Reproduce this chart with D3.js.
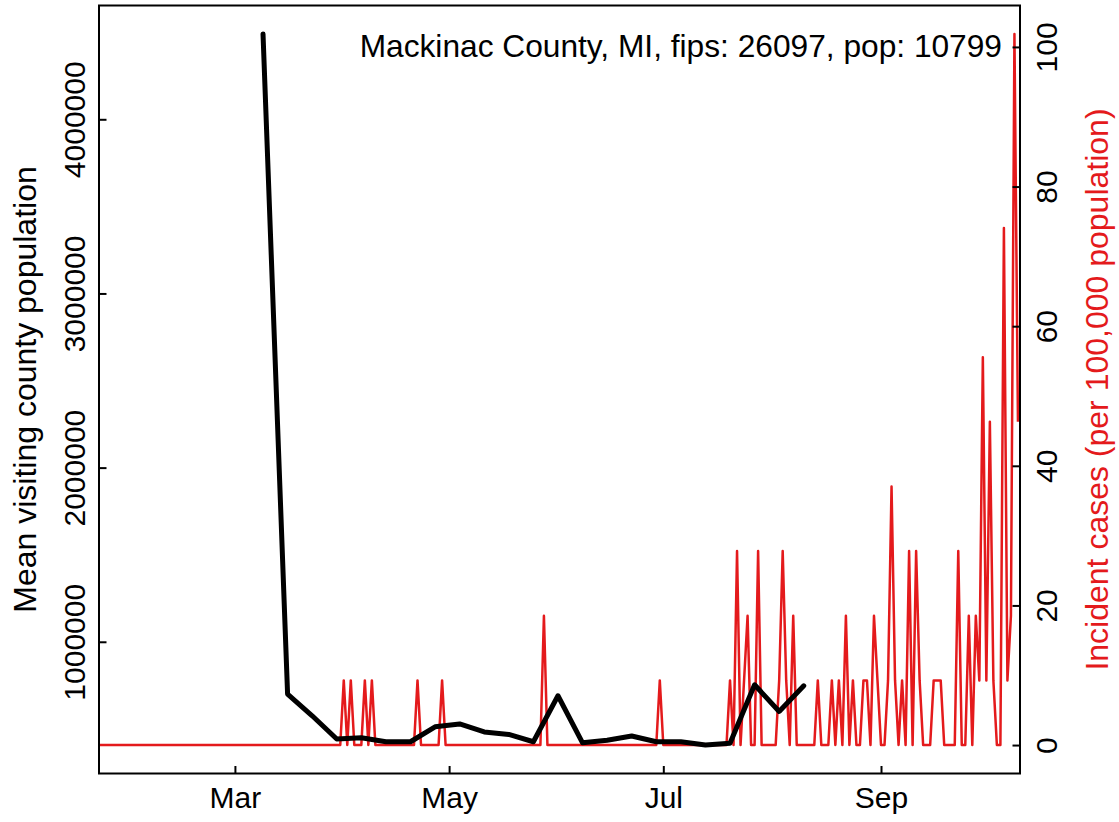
<!DOCTYPE html>
<html>
<head>
<meta charset="utf-8">
<script src="https://cdn.jsdelivr.net/npm/d3@7"></script>
<style>
  html, body { margin: 0; padding: 0; background: #fff; }
  svg { display: block; }
  text { font-family: "Liberation Sans", Arial, Helvetica, sans-serif; }
</style>
</head>
<body>
<svg id="chart" width="1119" height="822"></svg>
<script>
// ---------------- DATA ----------------
const titleText = "Mackinac County, MI, fips: 26097, pop: 10799";
const countyPopulation = 10799;

// Weekly mean visiting county population (black line)
const mobilityDates = ["2020-03-09","2020-03-16","2020-03-23","2020-03-30","2020-04-06","2020-04-13",
  "2020-04-20","2020-04-27","2020-05-04","2020-05-11","2020-05-18","2020-05-25","2020-06-01",
  "2020-06-08","2020-06-15","2020-06-22","2020-06-29","2020-07-06","2020-07-13","2020-07-20",
  "2020-07-27","2020-08-03","2020-08-10"];
const mobilityValues = [4490000, 700000, 575000, 442000, 449000, 426000,
  426000, 512000, 528000, 482000, 468000, 426000, 690000,
  420000, 435000, 459000, 426000, 426000, 407000, 417000,
  753000, 600000, 747000];

// Daily new cases (red line), first day 2020-01-22
const casesStartDate = "2020-01-22";
const casesJan = [0,0,0,0,0,0,0,0,0,0];
const casesFeb = [0,0,0,0,0,0,0,0,0,0, 0,0,0,0,0,0,0,0,0,0, 0,0,0,0,0,0,0,0,0];
const casesMar = [0,0,0,0,0,0,0,0,0,0, 0,0,0,0,0,0,0,0,0,0, 0,0,0,0,0,0,0,0,0,0, 0];
const casesApr = [1,0,1,0,0,0,1,0,1,0, 0,0,0,0,0,0,0,0,0,0, 0,1,0,0,0,0,0,0,1,0];
const casesMay = [0,0,0,0,0,0,0,0,0,0, 0,0,0,0,0,0,0,0,0,0, 0,0,0,0,0,0,0,2,0,0, 0];
const casesJun = [0,0,0,0,0,0,0,0,0,0, 0,0,0,0,0,0,0,0,0,0, 0,0,0,0,0,0,0,0,0,1];
const casesJul = [0,0,0,0,0,0,0,0,0,0, 0,0,0,0,0,0,0,0,0,1, 0,3,0,1,2,0,0,3,0,0, 0];
const casesAug = [0,0,1,3,1,0,2,0,0,0, 0,0,0,1,0,0,0,1,0,1, 0,2,0,1,0,0,1,1,0,2, 1];
const casesSep = [0,0,1,4,1,0,1,0,3,0, 3,1,0,0,0,1,1,1,0,0, 0,0,3,0,0,2,0,2,1,6];
const casesOct = [1,5,1,0,0,8,1,2,11,5];

const leftTicks = [1000000, 2000000, 3000000, 4000000];
const rightTicks = [0, 20, 40, 60, 80, 100];
const monthTicks = ["2020-03-01","2020-05-01","2020-07-01","2020-09-01"];
const xDomain = ["2020-01-22T07:00:00Z", "2020-10-10T14:00:00Z"];

const leftLabel = "Mean visiting county population";
const rightLabel = "Incident cases (per 100,000 population)";

// ---------------- LAYOUT ----------------
const plot = { left: 99, right: 1020, top: 5.5, bottom: 773.5 };
const RED = "#E41A1C";
const TICK_FONT = 30;
const LABEL_FONT = 32;
const TITLE_FONT = 31.7;

const parse = d3.utcParse("%Y-%m-%d");
const svg = d3.select("#chart");

const x = d3.scaleUtc()
  .domain(xDomain.map(d => new Date(d)))
  .range([plot.left, plot.right]);

function padded(ext) {
  const r = ext[1] - ext[0];
  return [ext[0] - 0.04 * r, ext[1] + 0.04 * r];
}

const mobility = mobilityDates.map((d, i) => ({ date: parse(d), value: mobilityValues[i] }));
const yLeft = d3.scaleLinear()
  .domain(padded(d3.extent(mobilityValues)))
  .range([plot.bottom, plot.top]);

const allCases = [].concat(casesJan, casesFeb, casesMar, casesApr, casesMay, casesJun,
                           casesJul, casesAug, casesSep, casesOct);
const start = parse(casesStartDate);
const incidence = allCases.map((c, i) => ({
  date: d3.utcDay.offset(start, i),
  value: c / countyPopulation * 100000
}));
const yRight = d3.scaleLinear()
  .domain(padded([0, d3.max(incidence, d => d.value)]))
  .range([plot.bottom, plot.top]);

// clip
svg.append("defs").append("clipPath").attr("id", "plotclip")
  .append("rect")
  .attr("x", plot.left).attr("y", plot.top)
  .attr("width", plot.right - plot.left).attr("height", plot.bottom - plot.top);

const gLines = svg.append("g").attr("clip-path", "url(#plotclip)");

gLines.append("path")
  .datum(incidence)
  .attr("fill", "none")
  .attr("stroke", RED)
  .attr("stroke-width", 2.5)
  .attr("stroke-linejoin", "round")
  .attr("d", d3.line().x(d => x(d.date)).y(d => yRight(d.value)));

gLines.append("path")
  .datum(mobility)
  .attr("fill", "none")
  .attr("stroke", "#000")
  .attr("stroke-width", 5)
  .attr("stroke-linejoin", "round")
  .attr("stroke-linecap", "round")
  .attr("d", d3.line().x(d => x(d.date)).y(d => yLeft(d.value)));

// axes
const tickLen = 7.5;

const xAxis = d3.axisBottom(x)
  .tickValues(monthTicks.map(parse))
  .tickFormat(d3.utcFormat("%b"))
  .tickSizeInner(-tickLen).tickSizeOuter(0);
const gx = svg.append("g").attr("transform", `translate(0,${plot.bottom})`).call(xAxis);
gx.select(".domain").remove();
gx.selectAll(".tick line").attr("stroke", "#000").attr("stroke-width", 2);
gx.selectAll(".tick text")
  .attr("y", 34.5).attr("dy", null)
  .attr("fill", "#000")
  .style("font-size", TICK_FONT + "px");

const yAxisL = d3.axisLeft(yLeft)
  .tickValues(leftTicks)
  .tickFormat(d3.format("d"))
  .tickSizeInner(-tickLen).tickSizeOuter(0);
const gyl = svg.append("g").attr("transform", `translate(${plot.left},0)`).call(yAxisL);
gyl.select(".domain").remove();
gyl.selectAll(".tick line").attr("stroke", "#000").attr("stroke-width", 2);
gyl.selectAll(".tick text")
  .attr("x", null).attr("dy", null)
  .attr("text-anchor", "middle")
  .attr("transform", "translate(-14.5,0) rotate(-90)")
  .attr("fill", "#000")
  .style("font-size", TICK_FONT + "px");

const yAxisR = d3.axisRight(yRight)
  .tickValues(rightTicks)
  .tickFormat(d3.format("d"))
  .tickSizeInner(-tickLen).tickSizeOuter(0);
const gyr = svg.append("g").attr("transform", `translate(${plot.right},0)`).call(yAxisR);
gyr.select(".domain").remove();
gyr.selectAll(".tick line").attr("stroke", "#000").attr("stroke-width", 2);
gyr.selectAll(".tick text")
  .attr("x", null).attr("dy", null)
  .attr("text-anchor", "middle")
  .attr("transform", "translate(36.5,0) rotate(-90)")
  .attr("fill", "#000")
  .style("font-size", TICK_FONT + "px");

// box
svg.append("rect")
  .attr("x", plot.left).attr("y", plot.top)
  .attr("width", plot.right - plot.left).attr("height", plot.bottom - plot.top)
  .attr("fill", "none").attr("stroke", "#000").attr("stroke-width", 2);

// axis titles
const midY = (plot.top + plot.bottom) / 2;
svg.append("text")
  .attr("transform", `translate(35.5,${midY}) rotate(-90)`)
  .attr("text-anchor", "middle")
  .style("font-size", LABEL_FONT + "px")
  .attr("fill", "#000")
  .text(leftLabel);

svg.append("text")
  .attr("transform", `translate(1107.5,${midY}) rotate(-90)`)
  .attr("text-anchor", "middle")
  .style("font-size", LABEL_FONT + "px")
  .attr("fill", RED)
  .text(rightLabel);

// title (top-right, inside plot)
svg.append("text")
  .attr("x", 1002).attr("y", 57)
  .attr("text-anchor", "end")
  .style("font-size", TITLE_FONT + "px")
  .attr("fill", "#000")
  .text(titleText);
</script>
</body>
</html>
